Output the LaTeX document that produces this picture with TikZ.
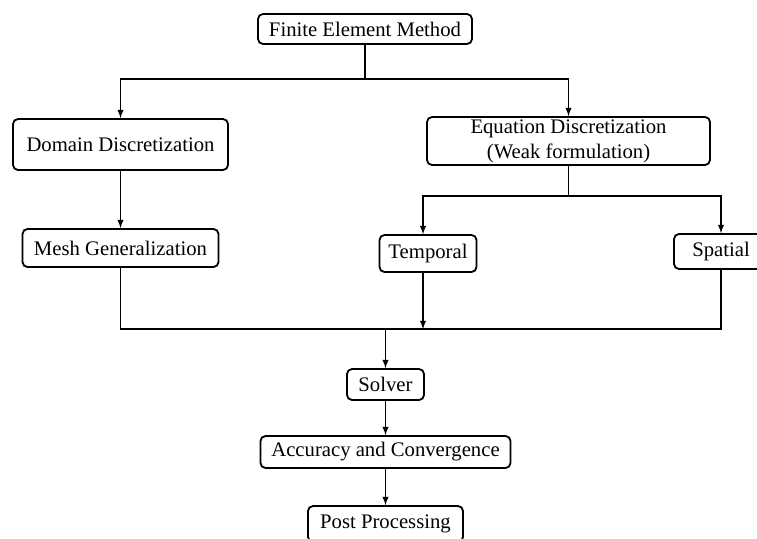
\documentclass[tikz,border=0pt]{standalone}
\usepackage{fontspec}
\setmainfont{Liberation Serif}
\usepackage{tikz}
\usetikzlibrary{calc}

\begin{document}
\begin{tikzpicture}[x=1pt,y=-1pt,
	blk/.style={draw, line width=1.8pt, rounded corners=5pt, inner sep=0pt,
		align=center, font=\fontsize{20.7}{25}\selectfont},
	link/.style={line width=1.8pt},
	arr/.style={line width=1.8pt, -latex}]
	\useasboundingbox (0,0) rectangle (757,538);
	\clip (0,0) rectangle (757,538);

	\node [blk, minimum width=214pt, minimum height=30pt] (fem) at (365, 29) {Finite Element Method};
	\node [blk, minimum width=215pt, minimum height=51pt] (domain) at (120.5, 144.5) {Domain Discretization};
	\node [blk, minimum width=283pt, minimum height=48pt] (eqn) at (568.5, 141) {Equation Discretization\\(Weak formulation)};
	\node [blk, minimum width=196pt, minimum height=38pt] (mesh) at (120.5, 248) {Mesh Generalization};
	\node [blk, minimum width=97pt, minimum height=37pt] (temporal) at (428, 253.5) {Temporal};
	\node [blk, minimum width=94pt, minimum height=35pt] (spatial) at (721, 251.5) {Spatial};
	\node [blk, minimum width=77pt, minimum height=31pt] (solver) at (385.5, 384.5) {Solver};
	\node [blk, minimum width=250pt, minimum height=32pt] (accuracy) at (385.5, 452) {Accuracy and Convergence};
	\node [blk, minimum width=155pt, minimum height=36pt] (post) at (385.5, 524) {Post Processing};

	\coordinate (split1) at (365, 79);
	\coordinate (split2) at (568.5, 196);
	\coordinate (merge) at (385.5, 329);

	% top branch
	\draw [link] (fem) -- (split1);
	\draw [arr] (split1) -| (domain);
	\draw [arr] (split1) -| (eqn);
	\draw [arr] (domain) -- (mesh);

	% equation branch
	\draw [link] (eqn) -- (split2);
	\draw [arr] (split2) -| ([xshift=-5pt]temporal.north);
	\draw [arr] (split2) -| (spatial);

	% join
	\draw [link] (mesh) |- (merge);
	\draw [link] (spatial) |- (merge);
	\draw [arr] ([xshift=-5pt]temporal.south) -- ([xshift=-5pt]temporal.south |- merge);
	\draw [arr] (merge) -- (solver);
	\draw [arr] (solver) -- (accuracy);
	\draw [arr] (accuracy) -- (post);
\end{tikzpicture}
\end{document}
